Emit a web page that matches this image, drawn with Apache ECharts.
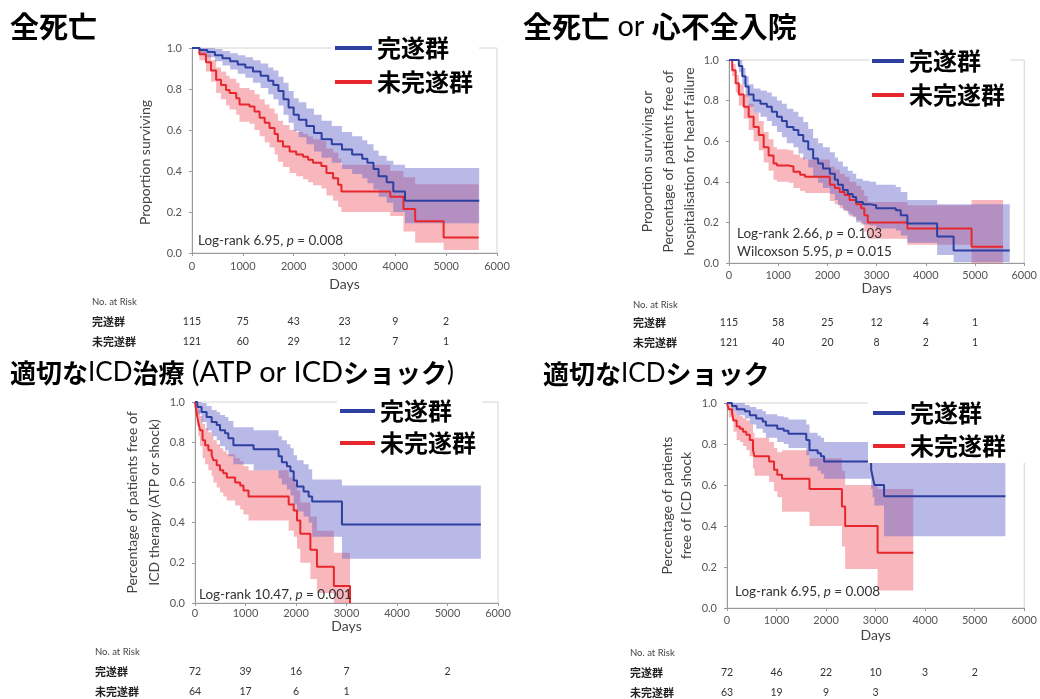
<!DOCTYPE html>
<html><head><meta charset="utf-8">
<script src="https://cdn.jsdelivr.net/npm/echarts@6/dist/echarts.min.js"></script>
<style>html,body{margin:0;padding:0;background:#fff}#c{width:1040px;height:699px}</style>
</head><body><div id="c"></div>
<script>
// ---------- data ----------
const GROUPS = ['完遂群', '未完遂群'];
const X_TICKS = [0, 1000, 2000, 3000, 4000, 5000, 6000];
const Y_TICKS = [0, 0.2, 0.4, 0.6, 0.8, 1.0];
const RISK_TIMES = [0, 1000, 2000, 3000, 4000, 5000];

const TITLES = [
  '{b|全死亡}',
  '{b|全死亡}{n| or }{b|心不全入院}',
  '{b|適切な}{n|ICD}{b|治療}{w| (ATP or ICD}{b|ショック}{n|)}',
  '{b|適切な}{n|ICD}{b|ショック}'
];
const Y_NAMES = [
  'Proportion surviving',
  'Proportion surviving or\nPercentage of patients free of\nhospitalisation for heart failure',
  'Percentage of patients free of\nICD therapy (ATP or shock)',
  'Percentage of patients\nfree of ICD shock'
];
const X_NAME = 'Days';
const STATS = [
  [['Log-rank 6.95', '0.008']],
  [['Log-rank 2.66', '0.103'], ['Wilcoxson 5.95', '0.015']],
  [['Log-rank 10.47', '0.001']],
  [['Log-rank 6.95', '0.008']]
];

// [days, survival, lower CI, upper CI]
const P1_COMPLETE = [
  [0,1,1,1],[150,0.99,0.97,1],[300,0.98,0.955,1],[450,0.965,0.935,0.995],[600,0.95,0.915,0.985],
  [750,0.935,0.895,0.975],[900,0.92,0.875,0.965],[1050,0.905,0.855,0.955],[1200,0.885,0.83,0.94],
  [1350,0.865,0.805,0.925],[1500,0.84,0.775,0.905],[1600,0.82,0.75,0.89],[1700,0.79,0.72,0.86],
  [1800,0.75,0.675,0.83],[1900,0.71,0.635,0.79],[2000,0.675,0.595,0.755],[2100,0.65,0.565,0.735],
  [2250,0.62,0.53,0.705],[2400,0.585,0.495,0.675],[2550,0.555,0.465,0.645],[2750,0.53,0.44,0.62],
  [2950,0.505,0.41,0.59],[3150,0.48,0.385,0.57],[3350,0.46,0.365,0.55],[3450,0.44,0.34,0.53],
  [3570,0.41,0.31,0.5],[3670,0.375,0.275,0.475],[3830,0.345,0.245,0.45],[3960,0.3,0.2,0.43],
  [4190,0.255,0.145,0.415],[5650,0.255,0.145,0.415]
];
const P1_INCOMPLETE = [
  [0,1,1,1],[145,0.97,0.94,0.995],[275,0.93,0.885,0.97],[375,0.89,0.835,0.94],[475,0.845,0.78,0.905],
  [570,0.82,0.75,0.885],[670,0.795,0.72,0.865],[740,0.78,0.7,0.85],[870,0.755,0.675,0.83],
  [935,0.725,0.64,0.805],[1130,0.715,0.63,0.795],[1230,0.69,0.6,0.775],[1330,0.66,0.57,0.75],
  [1430,0.635,0.54,0.725],[1525,0.61,0.515,0.705],[1625,0.58,0.48,0.68],[1690,0.545,0.445,0.645],
  [1790,0.52,0.42,0.625],[1920,0.495,0.39,0.6],[2050,0.48,0.375,0.59],[2185,0.47,0.36,0.58],
  [2285,0.455,0.345,0.57],[2380,0.44,0.33,0.555],[2545,0.425,0.315,0.545],[2645,0.39,0.28,0.51],
  [2775,0.365,0.255,0.49],[2875,0.333,0.225,0.46],[2940,0.3,0.2,0.43],[3900,0.275,0.18,0.4],
  [4160,0.215,0.105,0.37],[4390,0.155,0.05,0.335],[4950,0.076,0.015,0.335],[5640,0.076,0.015,0.335]
];
const P2_COMPLETE = [
  [0,1,1,1],[110,1,1,1],[200,0.97,0.94,1],[270,0.92,0.88,0.96],[335,0.87,0.82,0.92],[400,0.83,0.77,0.88],
  [500,0.8,0.74,0.86],[640,0.785,0.72,0.85],[770,0.77,0.7,0.84],[870,0.745,0.675,0.82],
  [975,0.72,0.645,0.8],[1075,0.7,0.62,0.785],[1175,0.67,0.59,0.76],[1310,0.655,0.57,0.745],
  [1410,0.63,0.54,0.72],[1510,0.6,0.51,0.695],[1610,0.56,0.47,0.66],[1710,0.515,0.42,0.615],
  [1810,0.49,0.395,0.59],[1910,0.465,0.37,0.57],[2050,0.44,0.34,0.545],[2150,0.41,0.31,0.52],
  [2215,0.385,0.285,0.5],[2315,0.36,0.26,0.475],[2415,0.34,0.24,0.455],[2515,0.325,0.225,0.44],
  [2585,0.3,0.2,0.415],[2720,0.29,0.19,0.405],[2850,0.285,0.185,0.4],[2990,0.27,0.17,0.385],
  [3390,0.26,0.16,0.375],[3490,0.235,0.135,0.35],[3625,0.195,0.1,0.31],[4230,0.13,0.04,0.29],
  [4565,0.062,0.005,0.29],[5705,0.062,0.005,0.29]
];
const P2_INCOMPLETE = [
  [0,1,1,1],[65,0.95,0.92,0.98],[135,0.885,0.84,0.925],[200,0.83,0.775,0.88],[300,0.77,0.71,0.83],
  [400,0.72,0.655,0.785],[500,0.67,0.6,0.74],[605,0.63,0.555,0.7],[705,0.57,0.495,0.645],
  [805,0.53,0.455,0.61],[905,0.49,0.41,0.57],[975,0.48,0.4,0.56],[1210,0.475,0.395,0.555],
  [1310,0.45,0.37,0.535],[1445,0.435,0.355,0.52],[1545,0.425,0.345,0.51],[2050,0.385,0.305,0.475],
  [2150,0.37,0.29,0.46],[2250,0.35,0.27,0.44],[2350,0.335,0.255,0.425],[2450,0.31,0.23,0.4],
  [2585,0.29,0.21,0.38],[2685,0.27,0.19,0.36],[2750,0.235,0.155,0.33],[2820,0.2,0.12,0.3],
  [3625,0.17,0.09,0.285],[4930,0.08,0,0.31],[5570,0.08,0,0.31]
];
const P3_COMPLETE = [
  [0,1,1,1],[45,0.975,0.94,1],[130,0.95,0.9,0.995],[230,0.925,0.86,0.98],[330,0.9,0.83,0.96],
  [430,0.885,0.81,0.95],[495,0.86,0.78,0.935],[595,0.845,0.76,0.925],[660,0.82,0.73,0.905],
  [760,0.785,0.69,0.875],[1160,0.765,0.66,0.86],[1655,0.73,0.62,0.83],[1720,0.7,0.59,0.81],
  [1820,0.68,0.565,0.79],[1890,0.655,0.535,0.77],[1955,0.61,0.49,0.735],[2020,0.58,0.455,0.71],
  [2150,0.555,0.43,0.69],[2250,0.53,0.4,0.665],[2320,0.505,0.33,0.615],[2910,0.39,0.22,0.585],
  [5660,0.39,0.22,0.585]
];
const P3_INCOMPLETE = [
  [0,1,1,1],[35,0.94,0.88,0.99],[65,0.9,0.83,0.96],[100,0.86,0.78,0.93],[150,0.81,0.72,0.89],
  [200,0.785,0.69,0.87],[265,0.76,0.66,0.85],[330,0.735,0.63,0.83],[365,0.71,0.6,0.81],
  [430,0.685,0.575,0.79],[495,0.66,0.55,0.77],[560,0.645,0.53,0.755],[630,0.625,0.51,0.74],
  [795,0.6,0.485,0.72],[895,0.585,0.465,0.705],[960,0.56,0.44,0.68],[1060,0.53,0.41,0.66],
  [1855,0.49,0.36,0.625],[1955,0.46,0.33,0.6],[2020,0.41,0.27,0.56],[2085,0.345,0.2,0.5],
  [2285,0.265,0.12,0.43],[2415,0.18,0.05,0.36],[2750,0.085,0,0.25],[3070,0,0,0]
];
const P4_COMPLETE = [
  [0,1,1,1],[100,0.985,0.96,1],[195,0.97,0.94,1],[360,0.96,0.925,0.99],[460,0.94,0.895,0.98],
  [590,0.925,0.875,0.97],[720,0.91,0.855,0.96],[785,0.89,0.83,0.945],[1015,0.875,0.81,0.935],
  [1145,0.865,0.8,0.93],[1240,0.85,0.78,0.92],[1600,0.82,0.745,0.895],[1665,0.77,0.69,0.855],
  [1830,0.755,0.67,0.84],[1895,0.74,0.655,0.83],[1960,0.715,0.63,0.81],[2910,0.675,0.58,0.78],
  [2940,0.64,0.54,0.755],[2975,0.6,0.5,0.72],[3170,0.545,0.35,0.72],[5620,0.545,0.35,0.72]
];
const P4_INCOMPLETE = [
  [0,1,1,1],[35,0.97,0.93,1],[100,0.955,0.91,0.99],[130,0.915,0.86,0.96],[195,0.885,0.82,0.94],
  [260,0.875,0.81,0.935],[325,0.86,0.79,0.925],[390,0.845,0.77,0.915],[460,0.82,0.74,0.895],
  [525,0.77,0.68,0.855],[555,0.74,0.645,0.83],[850,0.715,0.615,0.81],[950,0.675,0.57,0.78],
  [1015,0.65,0.54,0.76],[1110,0.63,0.47,0.77],[1665,0.58,0.4,0.73],[2320,0.495,0.3,0.67],
  [2385,0.4,0.19,0.6],[3040,0.27,0.085,0.58],[3760,0.27,0.085,0.58]
];

const RISK_P1_COMPLETE = [115, 75, 43, 23, 9, 2];
const RISK_P1_INCOMPLETE = [121, 60, 29, 12, 7, 1];
const RISK_P2_COMPLETE = [115, 58, 25, 12, 4, 1];
const RISK_P2_INCOMPLETE = [121, 40, 20, 8, 2, 1];
const RISK_P3_COMPLETE = [72, 39, 16, 7, null, 2];
const RISK_P3_INCOMPLETE = [64, 17, 6, 1, null, null];
const RISK_P4_COMPLETE = [72, 46, 22, 10, 3, 2];
const RISK_P4_INCOMPLETE = [63, 19, 9, 3, null, null];

const CURVES = [[P1_COMPLETE, P1_INCOMPLETE], [P2_COMPLETE, P2_INCOMPLETE], [P3_COMPLETE, P3_INCOMPLETE], [P4_COMPLETE, P4_INCOMPLETE]];
const RISKS = [[RISK_P1_COMPLETE, RISK_P1_INCOMPLETE], [RISK_P2_COMPLETE, RISK_P2_INCOMPLETE], [RISK_P3_COMPLETE, RISK_P3_INCOMPLETE], [RISK_P4_COMPLETE, RISK_P4_INCOMPLETE]];

// ---------- style / layout ----------
const LINE_COLORS = ['#2d3f9f', '#e8272d'];
const BAND_COLORS = ['rgba(95,95,200,0.44)', 'rgba(235,75,90,0.40)'];
const LAYOUT = [
  {grid:{left:192,top:48,width:305,height:205}, xGap:24, xMargin:8, yGap:39, yLH:16, yPad:[0,24,0,0],
   legend:{left:332,top:33,gap:10,w:37,pad:[3,6,3,3]}, title:{x:10,y:27,size:29}, stat:{x:198,y:241},
   risk:{x:92,y:[302,322,342]}},
  {grid:{left:729,top:60,width:298,height:203}, xGap:16, xMargin:7, yGap:28, yLH:21, yPad:[0,0,0,0],
   legend:{left:869,top:46,gap:10,w:32,pad:[3,6,3,3]}, title:{x:523,y:27,size:29}, stat:{x:737,y:234},
   risk:{x:633,y:[305,323,343]}},
  {grid:{left:195,top:402,width:303,height:201}, xGap:16, xMargin:5, yGap:28, yLH:22, yPad:[0,0,0,0],
   legend:{left:337,top:396,gap:8,w:35,pad:[3,6,3,3]}, title:{x:10,y:373,size:26}, stat:{x:199,y:595},
   risk:{x:95,y:[652,672,692]}},
  {grid:{left:727,top:403,width:306,height:205}, xGap:20, xMargin:7, yGap:31, yLH:19, yPad:[0,0,0,0],
   legend:{left:868,top:398,gap:9,w:32,pad:[3,24,5,5]}, title:{x:543,y:374,size:26}, stat:{x:735,y:592},
   risk:{x:630,y:[653,673,693]}}
];
const LATIN = 'Lato, "Liberation Sans", sans-serif';
const CJK = '"Noto Sans CJK JP", sans-serif';

// step-shaped confidence band drawn as one polygon through the axis scales
function bandRenderer(curve, color) {
  return function (params, api) {
    if (params.dataIndex !== 0) return null;
    const up = [], lo = [];
    for (let k = 0; k < curve.length - 1; k++) {
      const t0 = curve[k][0], t1 = curve[k + 1][0];
      up.push(api.coord([t0, curve[k][3]]), api.coord([t1, curve[k][3]]));
      lo.push(api.coord([t0, curve[k][2]]), api.coord([t1, curve[k][2]]));
    }
    const pts = up.concat(lo.reverse());
    return {type:'polygon', shape:{points:pts}, style:{fill:color, stroke:null}};
  };
}

const grids = [], xAxes = [], yAxes = [], series = [], legends = [];
LAYOUT.forEach((L, i) => {
  grids.push(Object.assign({show:true, borderColor:'#d4d4d4', borderWidth:1, backgroundColor:'#fff'}, L.grid));
  xAxes.push({
    gridIndex:i, type:'value', min:X_TICKS[0], max:X_TICKS[X_TICKS.length-1], interval:X_TICKS[1]-X_TICKS[0],
    name:X_NAME, nameLocation:'middle', nameGap:L.xGap,
    nameTextStyle:{fontSize:14, color:'#444', fontFamily:LATIN},
    axisLine:{show:true, lineStyle:{color:'#9a9a9a'}},
    axisTick:{show:true, length:3, lineStyle:{color:'#9a9a9a'}},
    axisLabel:{fontSize:11, color:'#555', margin:L.xMargin, fontFamily:LATIN, formatter:v => String(v)},
    splitLine:{show:false}
  });
  yAxes.push({
    gridIndex:i, type:'value', min:Y_TICKS[0], max:Y_TICKS[Y_TICKS.length-1], interval:Y_TICKS[1]-Y_TICKS[0],
    name:Y_NAMES[i], nameLocation:'middle', nameGap:L.yGap, nameRotate:90,
    nameTextStyle:{fontSize:14, color:'#444', fontFamily:LATIN, lineHeight:L.yLH, padding:L.yPad},
    axisLine:{show:true, lineStyle:{color:'#9a9a9a'}},
    axisTick:{show:true, length:3, lineStyle:{color:'#9a9a9a'}},
    axisLabel:{fontSize:11, color:'#555', margin:10, fontFamily:LATIN, formatter:v => v.toFixed(1)},
    splitLine:{show:false}
  });
  [1, 0].forEach(g => {
    const c = CURVES[i][g];
    series.push({type:'custom', name:'_band'+i+g, xAxisIndex:i, yAxisIndex:i, silent:true, clip:true, z:1,
      data:c.map(r => [r[0], r[2], r[3]]), encode:{x:0, y:[1, 2]},
      renderItem:bandRenderer(c, BAND_COLORS[g]), animation:false});
  });
  [1, 0].forEach(g => {
    const c = CURVES[i][g];
    series.push({type:'line', name:GROUPS[g], xAxisIndex:i, yAxisIndex:i, step:'end', symbol:'none', showSymbol:false,
      data:c.map(r => [r[0], r[1]]), color:LINE_COLORS[g], itemStyle:{color:LINE_COLORS[g]},
      lineStyle:{color:LINE_COLORS[g], width:2}, z:3, animation:false});
  });
  legends.push({
    data:GROUPS, orient:'vertical', left:L.legend.left, top:L.legend.top, icon:'rect',
    itemWidth:L.legend.w, itemHeight:4, itemGap:L.legend.gap, padding:L.legend.pad,
    backgroundColor:'#fff', selectedMode:false,
    textStyle:{fontSize:24, fontWeight:'bold', color:'#000', fontFamily:CJK}
  });
});

const chart = echarts.init(document.getElementById('c'), null, {renderer:'canvas'});
chart.setOption({
  animation:false,
  backgroundColor:'#fff',
  grid:grids, xAxis:xAxes, yAxis:yAxes, legend:legends, series:series
});

// ---------- text overlays ----------
const graphics = [];
LAYOUT.forEach((L, i) => {
  const s = L.title.size;
  graphics.push({type:'text', x:L.title.x, y:L.title.y, z:10, style:{
    text:TITLES[i], verticalAlign:'middle',
    rich:{
      b:{fontFamily:CJK, fontWeight:'bold', fontSize:s, fill:'#000'},
      n:{fontFamily:LATIN, fontWeight:'normal', fontSize:s, fill:'#000'},
      w:{fontFamily:LATIN, fontWeight:'normal', fontSize:s + 3, fill:'#000'}
    }}});
  STATS[i].forEach((st, k) => {
    graphics.push({type:'text', x:L.stat.x, y:L.stat.y + k*18, z:10, style:{
      text:'{t|' + st[0] + ', }{i|p}{t| = ' + st[1] + '}', verticalAlign:'middle',
      rich:{
        t:{fontFamily:LATIN, fontSize:13.5, fill:'#333'},
        i:{fontFamily:LATIN, fontSize:13.5, fontStyle:'italic', fill:'#333'}
      }}});
  });
  graphics.push({type:'text', x:L.risk.x, y:L.risk.y[0], z:10, style:{
    text:'No. at Risk', fontFamily:LATIN, fontSize:9.5, fill:'#444', verticalAlign:'middle'}});
  [0, 1].forEach(g => {
    graphics.push({type:'text', x:L.risk.x, y:L.risk.y[g+1], z:10, style:{
      text:GROUPS[g], fontFamily:CJK, fontWeight:'bold', fontSize:11, fill:'#222', verticalAlign:'middle'}});
    RISK_TIMES.forEach((t, k) => {
      const v = RISKS[i][g][k];
      if (v === null || v === undefined) return;
      const px = chart.convertToPixel({xAxisIndex:i}, t);
      graphics.push({type:'text', x:px, y:L.risk.y[g+1], z:10, style:{
        text:String(v), fontFamily:LATIN, fontSize:10.5, fill:'#333', align:'center', verticalAlign:'middle'}});
    });
  });
});
chart.setOption({graphic:graphics});
</script>
</body></html>
